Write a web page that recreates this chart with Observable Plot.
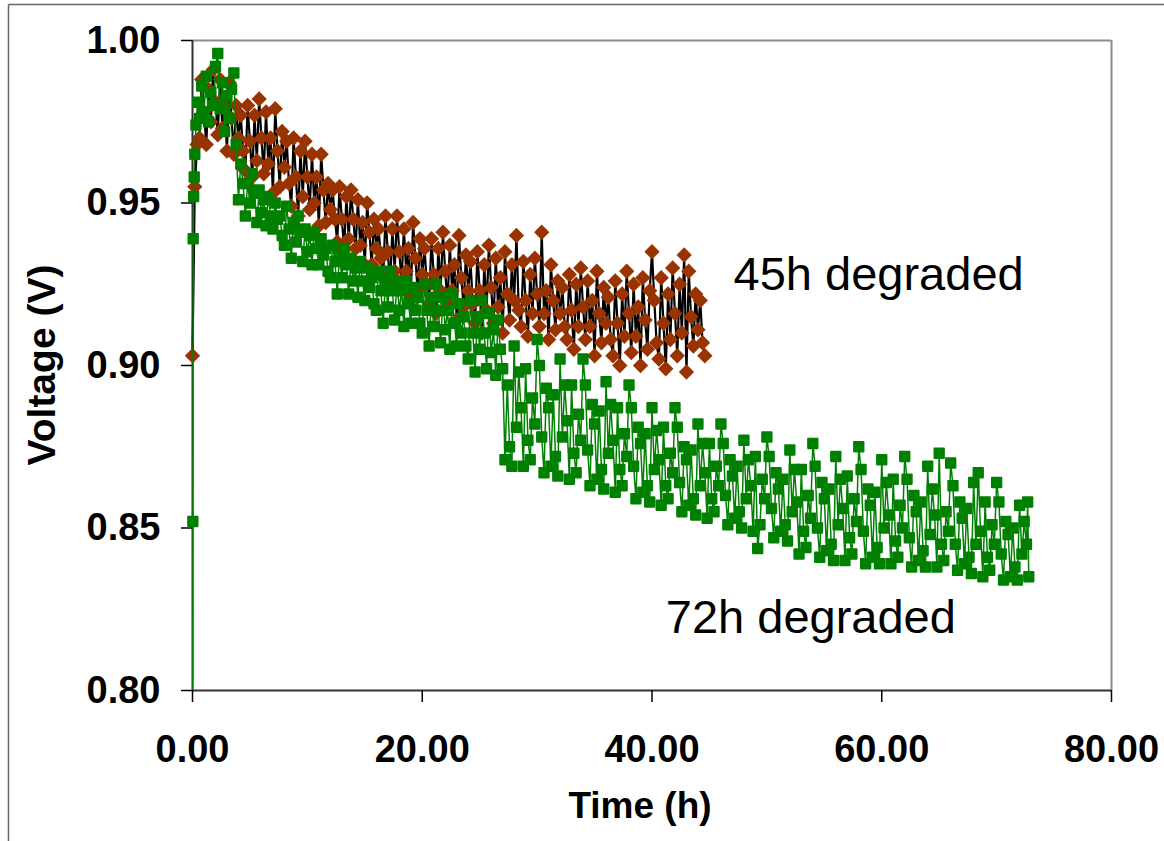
<!DOCTYPE html>
<html><head><meta charset="utf-8">
<script src="https://cdn.jsdelivr.net/npm/d3@7"></script>
<script src="https://cdn.jsdelivr.net/npm/@observablehq/plot@0.6"></script>
<style>body{margin:0;background:#fff} #chart svg{display:block}</style>
</head><body><div id="chart"></div>
<script>
// [time (h), voltage (V)]
const series45 = [
[0,0.903],[0.2,0.955],[0.4,0.968],[0.6,0.970],[0.8,0.988],[1.0,0.978],[1.2,0.968],[1.4,0.985],[1.6,0.975],[1.8,0.991],
[2.0,0.981],[2.2,0.971],[2.4,0.988],[2.6,0.973],[2.8,0.980],[3.0,0.966],[3.2,0.987],[3.4,0.976],[3.6,0.965],[3.8,0.980],
[4.0,0.970],[4.2,0.977],[4.4,0.966],[4.6,0.960],[4.8,0.980],[5.0,0.969],[5.2,0.958],[5.4,0.977],[5.6,0.963],[5.8,0.982],
[6.0,0.970],[6.2,0.959],[6.4,0.978],[6.6,0.962],[6.8,0.970],[7.0,0.953],[7.2,0.979],[7.4,0.966],[7.6,0.955],[7.8,0.972],
[8.0,0.961],[8.2,0.969],[8.4,0.956],[8.6,0.949],[8.8,0.970],[9.0,0.958],[9.2,0.946],[9.4,0.966],[9.6,0.952],[9.8,0.969],
[10.0,0.958],[10.2,0.948],[10.4,0.965],[10.6,0.950],[10.8,0.958],[11.0,0.943],[11.2,0.965],[11.4,0.954],[11.6,0.944],[11.8,0.956],
[12.0,0.948],[12.2,0.954],[12.4,0.945],[12.6,0.938],[12.8,0.955],[13.0,0.945],[13.2,0.936],[13.4,0.952],[13.6,0.939],[13.8,0.954],
[14.0,0.945],[14.2,0.936],[14.4,0.951],[14.6,0.937],[14.8,0.944],[15.0,0.931],[15.2,0.950],[15.4,0.941],[15.6,0.931],[15.8,0.945],
[16.0,0.936],[16.2,0.942],[16.4,0.933],[16.6,0.927],[16.8,0.946],[17.0,0.935],[17.2,0.925],[17.4,0.942],[17.6,0.929],[17.8,0.946],
[18.0,0.935],[18.2,0.926],[18.4,0.942],[18.6,0.929],[18.8,0.936],[19.0,0.921],[19.2,0.944],[19.4,0.933],[19.6,0.923],[19.8,0.939],
[20.0,0.928],[20.2,0.936],[20.4,0.925],[20.6,0.919],[20.8,0.939],[21.0,0.928],[21.2,0.916],[21.4,0.936],[21.6,0.923],[21.8,0.941],
[22.0,0.929],[22.2,0.919],[22.4,0.937],[22.6,0.923],[22.8,0.931],[23.0,0.914],[23.2,0.940],[23.4,0.927],[23.6,0.918],[23.8,0.934],
[24.0,0.923],[24.2,0.932],[24.4,0.919],[24.6,0.913],[24.8,0.935],[25.0,0.923],[25.2,0.910],[25.4,0.931],[25.6,0.917],[25.8,0.937],
[26.0,0.924],[26.2,0.913],[26.4,0.933],[26.6,0.918],[26.8,0.927],[27.0,0.910],[27.2,0.935],[27.4,0.922],[27.6,0.914],[27.8,0.931],
[28.0,0.920],[28.2,0.940],[28.4,0.917],[28.6,0.912],[28.8,0.932],[29.0,0.920],[29.2,0.909],[29.4,0.928],[29.6,0.916],[29.8,0.933],
[30.0,0.922],[30.2,0.912],[30.4,0.941],[30.6,0.916],[30.8,0.923],[31.0,0.908],[31.2,0.931],[31.4,0.920],[31.6,0.911],[31.8,0.926],
[32.0,0.916],[32.2,0.924],[32.4,0.912],[32.6,0.908],[32.8,0.928],[33.0,0.917],[33.2,0.905],[33.4,0.925],[33.6,0.912],[33.8,0.930],
[34.0,0.918],[34.2,0.908],[34.4,0.926],[34.6,0.912],[34.8,0.920],[35.0,0.903],[35.2,0.929],[35.4,0.916],[35.6,0.907],[35.8,0.924],
[36.0,0.913],[36.2,0.921],[36.4,0.908],[36.6,0.903],[36.8,0.926],[37.0,0.913],[37.2,0.900],[37.4,0.922],[37.6,0.909],[37.8,0.929],
[38.0,0.916],[38.2,0.904],[38.4,0.925],[38.6,0.909],[38.8,0.918],[39.0,0.900],[39.2,0.927],[39.4,0.914],[39.6,0.905],[39.8,0.923],
[40.0,0.935],[40.2,0.920],[40.4,0.907],[40.6,0.902],[40.8,0.927],[41.0,0.913],[41.2,0.899],[41.4,0.922],[41.6,0.908],[41.8,0.930],
[42.0,0.916],[42.2,0.903],[42.4,0.925],[42.6,0.910],[42.8,0.934],[43.0,0.898],[43.2,0.929],[43.4,0.915],[43.6,0.906],[43.8,0.922],
[44.0,0.911],[44.2,0.920],[44.4,0.907],[44.6,0.903]
];
const series72 = [
[0,0.70],[0.03,0.852],[0.06,0.939],[0.1,0.952],[0.15,0.958],[0.2,0.965],[0.3,0.974],[0.45,0.981],[0.6,0.976],[0.8,0.986],
[1,0.978],[1.2,0.989],[1.4,0.975],[1.6,0.984],[1.8,0.980],[2,0.992],[2.2,0.996],[2.4,0.979],[2.6,0.987],[2.8,0.972],
[3,0.983],[3.2,0.976],[3.4,0.985],[3.6,0.990],[3.8,0.968],
[4.0,0.951],[4.2,0.962],[4.4,0.956],[4.6,0.946],[4.8,0.956],[5.0,0.950],[5.2,0.959],[5.4,0.953],[5.6,0.944],[5.8,0.954],
[6.0,0.947],[6.2,0.951],[6.4,0.943],[6.6,0.952],[6.8,0.946],[7.0,0.942],[7.2,0.950],[7.4,0.945],[7.6,0.946],[7.8,0.940],
[8.0,0.937],[8.2,0.949],[8.4,0.942],[8.6,0.933],[8.8,0.944],[9.0,0.938],[9.2,0.946],[9.4,0.941],[9.6,0.932],[9.8,0.942],
[10.0,0.935],[10.2,0.940],[10.4,0.931],[10.6,0.941],[10.8,0.936],[11.0,0.931],[11.2,0.939],[11.4,0.934],[11.6,0.936],[11.8,0.929],
[12.0,0.927],[12.2,0.937],[12.4,0.932],[12.6,0.922],[12.8,0.934],[13.0,0.927],[13.2,0.936],[13.4,0.931],[13.6,0.922],[13.8,0.933],
[14.0,0.926],[14.2,0.930],[14.4,0.921],[14.6,0.932],[14.8,0.926],[15.0,0.920],[15.2,0.930],[15.4,0.924],[15.6,0.927],[15.8,0.919],
[16.0,0.917],[16.2,0.929],[16.4,0.923],[16.6,0.913],[16.8,0.926],[17.0,0.918],[17.2,0.929],[17.4,0.923],[17.6,0.914],[17.8,0.926],
[18.0,0.917],[18.2,0.923],[18.4,0.912],[18.6,0.926],[18.8,0.919],[19.0,0.913],[19.2,0.924],[19.4,0.917],[19.6,0.921],[19.8,0.913],
[20.0,0.910],[20.2,0.925],[20.4,0.917],[20.6,0.906],[20.8,0.921],[21.0,0.912],[21.2,0.925],[21.4,0.917],[21.6,0.907],[21.8,0.921],
[22.0,0.911],[22.2,0.917],[22.4,0.905],[22.6,0.922],[22.8,0.913],[23.0,0.906],[23.2,0.919],[23.4,0.910],[23.6,0.915],[23.8,0.906],
[24.0,0.902],[24.2,0.920],[24.4,0.910],[24.6,0.898],[24.8,0.915],[25.0,0.905],[25.2,0.920],[25.4,0.910],[25.6,0.899],[25.8,0.916],
[26.0,0.904],[26.2,0.911],[26.4,0.897],[26.6,0.914],[26.8,0.905],[27.0,0.899],
[27.2,0.871],[27.4,0.894],[27.6,0.875],[27.8,0.869],[28.0,0.906],[28.2,0.881],[28.4,0.898],[28.6,0.887],[28.8,0.869],[29.0,0.899],
[29.2,0.877],[29.4,0.871],[29.6,0.890],[29.8,0.882],[30.0,0.908],[30.2,0.900],[30.4,0.878],[30.6,0.867],[30.8,0.893],[31.0,0.887],
[31.2,0.869],[31.4,0.891],[31.6,0.872],[31.8,0.866],[32.0,0.902],[32.2,0.878],[32.4,0.894],[32.6,0.883],[32.8,0.865],[33.0,0.894],
[33.2,0.873],[33.4,0.867],[33.6,0.885],[33.8,0.877],[34.0,0.902],[34.2,0.894],[34.4,0.874],[34.6,0.863],[34.8,0.888],[35.0,0.882],
[35.2,0.865],[35.4,0.886],[35.6,0.868],[35.8,0.862],[36.0,0.895],[36.2,0.873],[36.4,0.888],[36.6,0.877],[36.8,0.861],[37.0,0.887],
[37.2,0.868],[37.4,0.863],[37.6,0.879],[37.8,0.872],[38.0,0.894],[38.2,0.887],[38.4,0.869],[38.6,0.859],[38.8,0.881],[39.0,0.876],
[39.2,0.861],[39.4,0.879],[39.6,0.863],[39.8,0.858],[40.0,0.887],[40.2,0.868],[40.4,0.880],[40.6,0.871],[40.8,0.857],[41.0,0.881],
[41.2,0.863],[41.4,0.859],[41.6,0.873],[41.8,0.867],[42.0,0.887],[42.2,0.881],[42.4,0.864],[42.6,0.855],[42.8,0.875],[43.0,0.871],
[43.2,0.857],[43.4,0.874],[43.6,0.859],[43.8,0.854],[44.0,0.882],[44.2,0.863],[44.4,0.876],[44.6,0.867],[44.8,0.853],[45.0,0.876],
[45.2,0.859],[45.4,0.855],[45.6,0.869],[45.8,0.863],[46.0,0.882],[46.2,0.876],[46.4,0.860],[46.6,0.851],[46.8,0.871],[47.0,0.866],
[47.2,0.853],[47.4,0.869],[47.6,0.855],[47.8,0.850],[48.0,0.877],[48.2,0.859],[48.4,0.871],[48.6,0.863],[48.8,0.849],[49.0,0.872],
[49.2,0.8437],[49.4,0.851],[49.6,0.865],[49.8,0.859],[50.0,0.878],[50.2,0.872],[50.4,0.856],[50.6,0.847],[50.8,0.867],[51.0,0.862],
[51.2,0.849],[51.4,0.865],[51.6,0.851],[51.8,0.846],[52.0,0.874],[52.2,0.855],[52.4,0.868],[52.6,0.858],[52.8,0.842],[53.0,0.868],
[53.2,0.849],[53.4,0.844],[53.6,0.860],[53.8,0.853],[54.0,0.876],[54.2,0.869],[54.4,0.850],[54.6,0.841],[54.8,0.864],[55.0,0.859],
[55.2,0.843],[55.4,0.862],[55.6,0.845],[55.8,0.840],[56.0,0.872],[56.2,0.851],[56.4,0.865],[56.6,0.856],[56.8,0.840],[57.0,0.866],
[57.2,0.847],[57.4,0.842],[57.6,0.859],[57.8,0.852],[58.0,0.875],[58.2,0.868],[58.4,0.849],[58.6,0.839],[58.8,0.862],[59.0,0.857],
[59.2,0.841],[59.4,0.861],[59.6,0.844],[59.8,0.839],[60.0,0.871],[60.2,0.850],[60.4,0.864],[60.6,0.854],[60.8,0.839],[61.0,0.865],
[61.2,0.846],[61.4,0.841],[61.6,0.857],[61.8,0.850],[62.0,0.872],[62.2,0.865],[62.4,0.847],[62.6,0.838],[62.8,0.860],[63.0,0.855],
[63.2,0.840],[63.4,0.858],[63.6,0.843],[63.8,0.838],[64.0,0.869],[64.2,0.848],[64.4,0.862],[64.6,0.854],[64.8,0.838],[65.0,0.873],
[65.2,0.845],[65.4,0.840],[65.6,0.855],[65.8,0.849],[66.0,0.870],[66.2,0.863],[66.4,0.845],[66.6,0.837],[66.8,0.858],[67.0,0.853],
[67.2,0.839],[67.4,0.856],[67.6,0.841],[67.8,0.836],[68.0,0.864],[68.2,0.845],[68.4,0.867],[68.6,0.849],[68.8,0.835],[69.0,0.858],
[69.2,0.841],[69.4,0.837],[69.6,0.851],[69.8,0.845],[70.0,0.864],[70.2,0.858],[70.4,0.842],[70.6,0.834],[70.8,0.852],[71.0,0.848],
[71.2,0.835],[71.4,0.850],[71.6,0.838],[71.8,0.834],[72.0,0.857],[72.2,0.842],[72.4,0.852],[72.6,0.845],[72.7,0.858],[72.8,0.835]
];
const xTicks = [0, 20, 40, 60, 80];
const yTicks = [0.80, 0.85, 0.90, 0.95, 1.00];
const seriesNames = ["45h degraded", "72h degraded"];
const xTitle = "Time (h)";
const yTitle = "Voltage (V)";

const d45 = series45.map(([t, v]) => ({t, v}));
const d72 = series72.map(([t, v]) => ({t, v}));
const fmt = d3.format(".2f");
const font = "'Liberation Sans', Arial, sans-serif";

const chart = Plot.plot({
  width: 1164, height: 841,
  marginLeft: 192, marginRight: 53, marginTop: 40, marginBottom: 151,
  x: {domain: [0, 80]},
  y: {domain: [0.8, 1.0]},
  style: {fontFamily: font, background: "#fff", overflow: "visible"},
  marks: [
    Plot.ruleY([1.0], {stroke: "#8c8c8c", strokeWidth: 2}),
    Plot.ruleX([80], {stroke: "#8c8c8c", strokeWidth: 2}),
    Plot.ruleX([0], {stroke: "#333", strokeWidth: 2}),
    Plot.ruleY([0.8], {stroke: "#333", strokeWidth: 2}),
    Plot.axisY({ticks: yTicks, tickFormat: fmt, tickSize: 11, tickPadding: 21, fontSize: 38, fontWeight: "bold", label: null, strokeWidth: 1.5}),
    Plot.axisX({ticks: xTicks, tickFormat: fmt, tickSize: 12, tickPadding: 33, fontSize: 38, fontWeight: "bold", label: null, strokeWidth: 1.5}),
    Plot.line(d45, {x: "t", y: "v", stroke: "#000", strokeWidth: 2.2}),
    Plot.dot(d45, {x: "t", y: "v", symbol: "diamond2", r: 6.9, fill: "#993300", stroke: "none"}),
    Plot.line(d72, {x: "t", y: "v", stroke: "#008000", strokeWidth: 1.5, clip: true}),
    Plot.dot(d72.filter(d => d.v >= 0.8), {x: "t", y: "v", symbol: "square", r: 5.5, fill: "#008000", stroke: "#008000", strokeWidth: 1.6, strokeLinejoin: "round"}),
    Plot.text([seriesNames[0]], {x: 47.1, y: 0.9231, text: d => d, textAnchor: "start", lineAnchor: "bottom", fontSize: 47, fill: "#000"}),
    Plot.text([seriesNames[1]], {x: 41.2, y: 0.8178, text: d => d, textAnchor: "start", lineAnchor: "bottom", fontSize: 47, fill: "#000"})
  ]
});

const svg = d3.select(chart);
svg.append("line").attr("x1", 8.5).attr("y1", 4.5).attr("x2", 1164).attr("y2", 4.5).attr("stroke", "#666").attr("stroke-width", 1.5);
svg.append("line").attr("x1", 8.5).attr("y1", 4.5).attr("x2", 8.5).attr("y2", 841).attr("stroke", "#666").attr("stroke-width", 1.5);
svg.append("text").text(xTitle).attr("x", 640).attr("y", 818).attr("text-anchor", "middle")
  .attr("font-family", font).attr("font-size", 37).attr("font-weight", "bold").attr("fill", "#000");
svg.append("text").text(yTitle).attr("transform", "translate(55,365) rotate(-90)").attr("text-anchor", "middle")
  .attr("font-family", font).attr("font-size", 39).attr("font-weight", "bold").attr("fill", "#000");

document.getElementById("chart").append(chart);
</script>
</body></html>
